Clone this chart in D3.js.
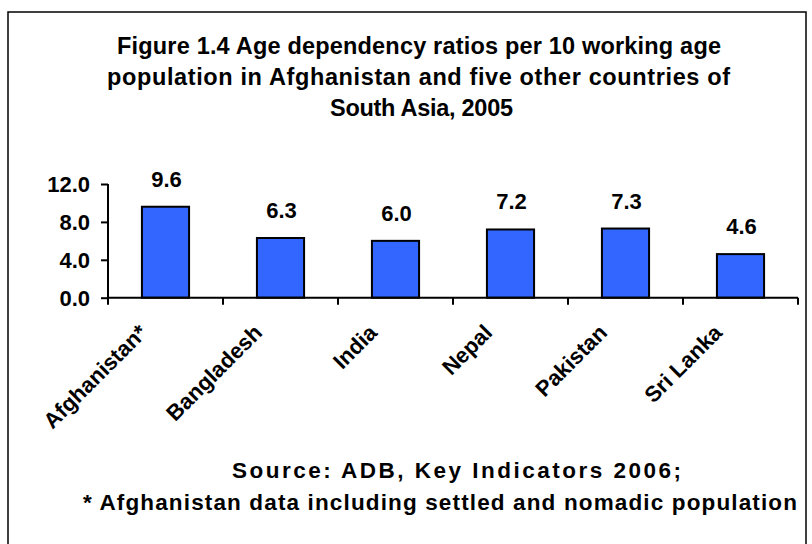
<!DOCTYPE html>
<html>
<head>
<meta charset="utf-8">
<script src="https://cdn.jsdelivr.net/npm/d3@7/dist/d3.min.js"></script>
<style>
  html, body { margin: 0; padding: 0; background: #fff; }
  svg text { font-family: "Liberation Sans", Arial, sans-serif; font-weight: bold; fill: #000; }
</style>
</head>
<body>
<svg id="chart" width="812" height="544"></svg>
<script>
const categories = ["Afghanistan*", "Bangladesh", "India", "Nepal", "Pakistan", "Sri Lanka"];
const values = [9.6, 6.3, 6.0, 7.2, 7.3, 4.6];
const yTicks = [0, 4, 8, 12];
const titleLines = [
  "Figure 1.4 Age dependency ratios per 10 working age",
  "population in Afghanistan and five other countries of",
  "South Asia, 2005"
];
const sourceLines = [
  "Source: ADB, Key Indicators 2006;",
  "* Afghanistan data including settled and nomadic population"
];

const svg = d3.select("#chart");

// outer frame
svg.append("rect")
  .attr("x", 8).attr("y", 12).attr("width", 798).attr("height", 560)
  .attr("fill", "none").attr("stroke", "#000").attr("stroke-width", 1.5);

// title
const titleX = [117, 107, 330], titleLen = [604, 623, 183];
svg.append("g").selectAll("text").data(titleLines).join("text")
  .attr("x", (d, i) => titleX[i]).attr("y", (d, i) => 54 + i * 31)
  .attr("textLength", (d, i) => titleLen[i]).attr("lengthAdjust", "spacing")
  .style("font-size", "23.5px")
  .text(d => d);

const x = d3.scaleBand().domain(categories).range([108, 798]).padding(0);
const y = d3.scaleLinear().domain([0, 12]).range([297.7, 184]);
const barW = x.bandwidth() * 0.41;

// bars
svg.append("g").selectAll("rect").data(values).join("rect")
  .attr("x", (d, i) => x(categories[i]) + x.bandwidth() / 2 - barW / 2)
  .attr("y", d => y(d))
  .attr("width", barW)
  .attr("height", d => y(0) - y(d))
  .attr("fill", "#3366FF")
  .attr("stroke", "#000")
  .attr("stroke-width", 2);

// value labels
svg.append("g").selectAll("text").data(values).join("text")
  .attr("x", (d, i) => x(categories[i]) + x.bandwidth() / 2 + 1)
  .attr("y", d => y(d) - 20)
  .attr("text-anchor", "middle")
  .style("font-size", "22px")
  .text(d => d.toFixed(1));

// y axis
const yAxis = svg.append("g")
  .attr("transform", "translate(108,0)")
  .call(d3.axisLeft(y).tickValues(yTicks).tickFormat(d3.format(".1f")).tickSize(7).tickPadding(11));
yAxis.select(".domain").attr("stroke", "#000").attr("stroke-width", 2).attr("d", `M0,${y(12)}V${y(0)}`);
yAxis.selectAll(".tick line").attr("stroke", "#000").attr("stroke-width", 2);
yAxis.selectAll(".tick text")
  .style("font-size", "22px")
  .attr("font-family", null).attr("dy", "0.36em");

// x axis line and ticks at category boundaries
const xg = svg.append("g");
xg.append("line")
  .attr("x1", x.range()[0]).attr("x2", x.range()[1])
  .attr("y1", y(0)).attr("y2", y(0))
  .attr("stroke", "#000").attr("stroke-width", 2);
const bounds = categories.map(c => x(c)).concat([x.range()[1]]);
xg.selectAll("line.tk").data(bounds).join("line").attr("class", "tk")
  .attr("x1", d => d).attr("x2", d => d)
  .attr("y1", y(0)).attr("y2", y(0) + 7)
  .attr("stroke", "#000").attr("stroke-width", 2);

// x labels rotated
xg.selectAll("text").data(categories).join("text")
  .attr("text-anchor", "end")
  .attr("transform", d => `translate(${x(d) + x.bandwidth() / 2 - 17},334) rotate(-45)`)
  .style("font-size", "22px")
  .text(d => d);

// source
const srcX = [232, 83], srcLen = [449, 714];
svg.append("g").selectAll("text").data(sourceLines).join("text")
  .attr("x", (d, i) => srcX[i])
  .attr("y", (d, i) => 478 + i * 32)
  .attr("textLength", (d, i) => srcLen[i]).attr("lengthAdjust", "spacing")
  .style("font-size", "22.5px")
  .text(d => d);
</script>
</body>
</html>
